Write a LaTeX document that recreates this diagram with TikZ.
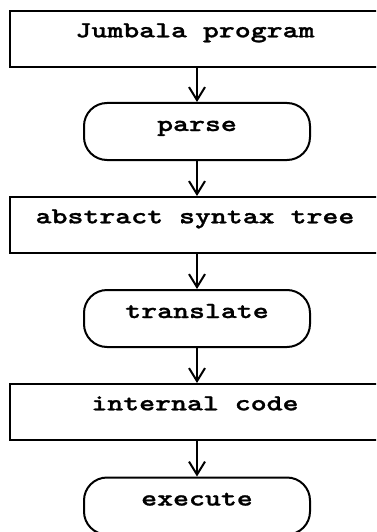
\documentclass[tikz,border=0pt]{standalone}
\usepackage{fontspec}
\setmonofont{Latin Modern Mono Light}[FakeStretch=1.32, FakeBold=1.2]
\usetikzlibrary{arrows.meta}
\begin{document}
\begin{tikzpicture}[x=1pt,y=-1pt,
  every node/.style={font=\ttfamily\bfseries\fontsize{23}{27}\selectfont,
    line width=2pt, draw, inner sep=0pt},
  databox/.style={rectangle, minimum width=370pt, minimum height=56pt,
    text height=20pt, text depth=23.4pt},
  procbox/.style={rectangle, rounded corners=23pt, minimum width=226pt,
    minimum height=57pt, text height=20pt, text depth=21pt},
  flow/.style={line width=2pt, -{Straight Barb[length=13pt,width=16pt]}}]
\useasboundingbox (0,0) rectangle (376,532);
\clip (0,0) rectangle (376,532);

% data stages (rectangles) and processing steps (rounded boxes)
\node[databox] (prog) at (195,39)    {Jumbala program};
\node[procbox] (parse) at (197,131.5) {parse};
\node[databox] (ast) at (195,225)    {abstract syntax tree};
\node[procbox] (trans) at (197,318.5) {translate};
\node[databox] (code) at (195,412)   {internal code};
\node[procbox] (exec) at (197,506)   {execute};

% flow between stages
\draw[flow] (parse.north |- prog.south) -- (parse.north);
\draw[flow] (parse.south) -- (parse.south |- ast.north);
\draw[flow] (trans.north |- ast.south) -- (trans.north);
\draw[flow] (trans.south) -- (trans.south |- code.north);
\draw[flow] (exec.north |- code.south) -- (exec.north);
\end{tikzpicture}
\end{document}
